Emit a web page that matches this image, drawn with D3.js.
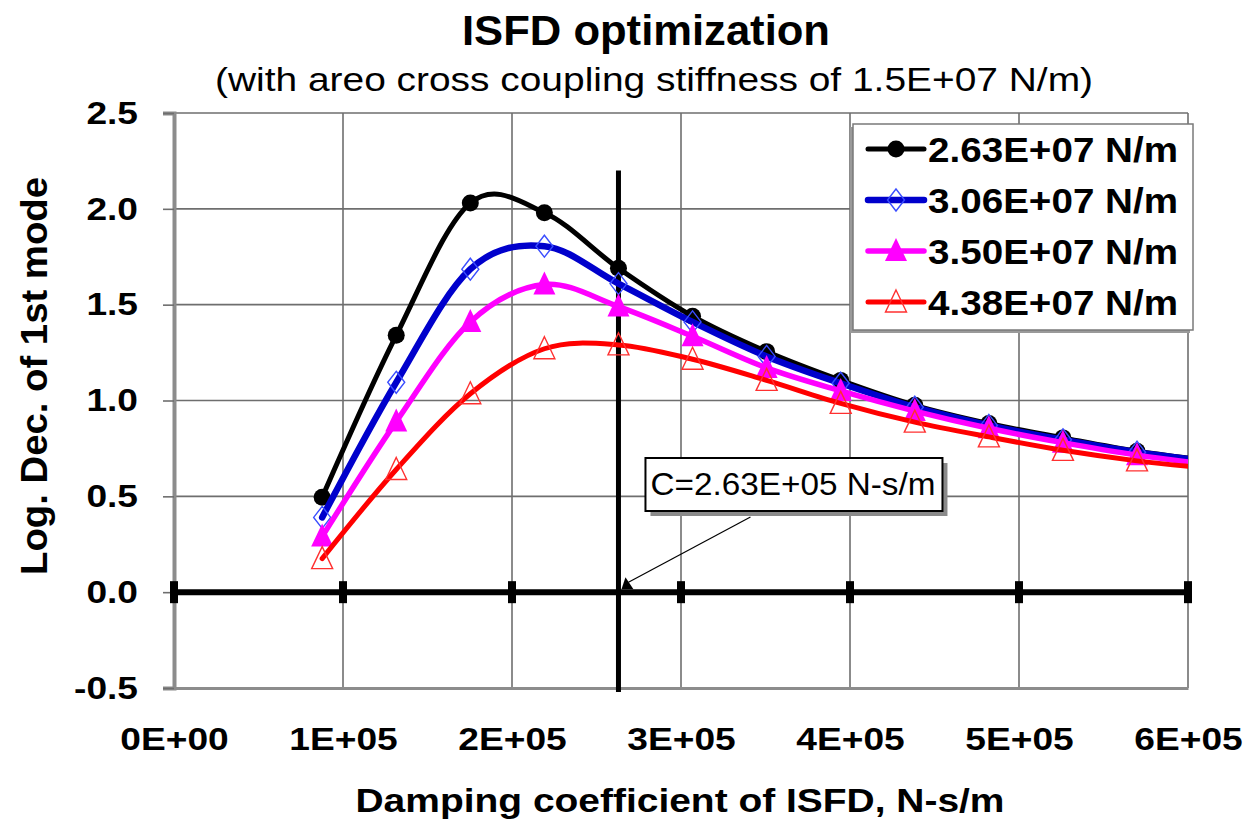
<!DOCTYPE html>
<html>
<head>
<meta charset="utf-8">
<script src="https://cdn.jsdelivr.net/npm/d3@7"></script>
<style>
  body { margin: 0; background: #fff; }
  text { font-family: "Liberation Sans", Arial, sans-serif; fill: #000; }
</style>
</head>
<body>
<div id="chart-area"></div>
<script>
// damping values, N-s/m (last one sits past the axis end, only the line into the edge shows)
var damping = [87667, 131500, 175333, 219167, 263000, 306833, 350667, 394500, 438333, 482167, 526000, 569833, 613667];

// log. dec. of 1st mode for each bearing stiffness
var k263 = [0.495, 1.34, 2.03, 1.98, 1.69, 1.44, 1.255, 1.105, 0.975, 0.88, 0.805, 0.735, 0.685];
var k306 = [0.39, 1.095, 1.685, 1.805, 1.61, 1.41, 1.23, 1.09, 0.965, 0.87, 0.795, 0.73, 0.68];
var k350 = [0.29, 0.89, 1.41, 1.605, 1.49, 1.335, 1.17, 1.05, 0.945, 0.855, 0.78, 0.715, 0.665];
var k438 = [0.175, 0.64, 1.035, 1.27, 1.29, 1.215, 1.105, 0.985, 0.887, 0.81, 0.74, 0.685, 0.645];

var seriesNames = ["2.63E+07 N/m", "3.06E+07 N/m", "3.50E+07 N/m", "4.38E+07 N/m"];
var xTicks = [0, 1e5, 2e5, 3e5, 4e5, 5e5, 6e5];
var yTicks = [-0.5, 0, 0.5, 1.0, 1.5, 2.0, 2.5];
var optimumC = 263000;
var optimumTop = 2.2;
var calloutText = "C=2.63E+05 N-s/m";

var styles = [
  { color: "#000000", width: 5, marker: "circle" },
  { color: "#0000cc", width: 6.5, marker: "diamond" },
  { color: "#ff00ff", width: 5.5, marker: "triFill" },
  { color: "#ff0000", width: 5, marker: "triOpen" }
];
var allSeries = [k263, k306, k350, k438];

var W = 1255, H = 820;
var svg = d3.select("#chart-area").append("svg")
  .attr("width", W)
  .attr("height", H);

var x = d3.scaleLinear().domain([0, 6e5]).range([174, 1188]);
var y = d3.scaleLinear().domain([-0.5, 2.5]).range([688, 113]);

// stretch helper, the source fonts are a bit wider than Arial
function widen(sel, f) {
  sel.each(function() {
    var t = d3.select(this);
    t.attr("textLength", this.getComputedTextLength() * f)
     .attr("lengthAdjust", "spacingAndGlyphs");
  });
}
function fit(sel, w) {
  sel.attr("textLength", w).attr("lengthAdjust", "spacingAndGlyphs");
}

//gridlines
var grid = svg.append("g");
grid.selectAll("line.h").data(yTicks).enter().append("line")
  .attr("x1", x(0)).attr("x2", x(6e5))
  .attr("y1", d => y(d)).attr("y2", d => y(d))
  .attr("stroke", "#6e6e6e").attr("stroke-width", 1.6);
grid.selectAll("line.v").data(xTicks).enter().append("line")
  .attr("x1", d => x(d)).attr("x2", d => x(d))
  .attr("y1", y(2.5)).attr("y2", y(-0.5))
  .attr("stroke", "#6e6e6e").attr("stroke-width", 1.6);

// y axis
var yAxis = svg.append("g")
  .attr("transform", "translate(" + x(0) + ",0)")
  .call(d3.axisLeft(y).tickValues(yTicks).tickFormat(d => d.toFixed(1)).tickSize(11).tickPadding(25));
yAxis.select(".domain").attr("stroke", "#8c8c8c").attr("stroke-width", 4);
yAxis.selectAll(".tick line").attr("stroke", "#6e6e6e").attr("stroke-width", 1.6);
yAxis.selectAll(".tick text")
  .style("font-family", "'Liberation Sans', Arial, sans-serif")
  .style("font-size", "32px").style("font-weight", "bold").attr("fill", "#000")
  .call(widen, 1.16);

// x axis
var xAxis = svg.append("g")
  .attr("transform", "translate(0," + y(-0.5) + ")")
  .call(d3.axisBottom(x).tickValues(xTicks).tickSize(0).tickPadding(39));
xAxis.select(".domain").attr("stroke", "#8c8c8c").attr("stroke-width", 3);
xAxis.selectAll(".tick text")
  .text(d => d === 0 ? "0E+00" : (d / 1e5) + "E+05")
  .style("font-family", "'Liberation Sans', Arial, sans-serif")
  .style("font-size", "32px").style("font-weight", "bold").attr("fill", "#000")
  .call(widen, 1.16);

// thick zero line with block ticks
svg.append("line")
  .attr("x1", x(0)).attr("x2", x(6e5))
  .attr("y1", y(0)).attr("y2", y(0))
  .attr("stroke", "#000").attr("stroke-width", 6);
svg.selectAll("rect.zt").data(xTicks).enter().append("rect")
  .attr("x", d => x(d) - 4).attr("y", y(0) - 11)
  .attr("width", 8).attr("height", 22)
  .attr("fill", "#000");

// optimum line
svg.append("line")
  .attr("x1", x(optimumC)).attr("x2", x(optimumC))
  .attr("y1", y(optimumTop)).attr("y2", y(-0.5) + 4)
  .attr("stroke", "#000").attr("stroke-width", 5);

// clip to plot area
svg.append("clipPath").attr("id", "plot")
  .append("rect")
  .attr("x", x(0)).attr("y", y(2.5) - 20)
  .attr("width", x(6e5) - x(0)).attr("height", y(-0.5) - y(2.5) + 20);

var line = d3.line()
  .x(d => x(d[0]))
  .y(d => y(d[1]))
  .curve(d3.curveCardinal.tension(0));

function drawMarker(g, type, color) {
  if (type === "circle") {
    g.append("circle").attr("r", 8.5).attr("fill", color);
  } else if (type === "diamond") {
    g.append("path").attr("d", "M0,-11L8.5,0L0,11L-8.5,0Z")
      .attr("fill", "none").attr("stroke", "#3a4dff").attr("stroke-width", 1.4);
  } else if (type === "triFill") {
    g.append("path").attr("d", "M0,-13L11,10L-11,10Z")
      .attr("fill", "#ff00ff");
  } else {
    g.append("path").attr("d", "M0,-12L10.5,10L-10.5,10Z")
      .attr("fill", "none").attr("stroke", "#ff3030").attr("stroke-width", 1.4);
  }
}

var plot = svg.append("g").attr("clip-path", "url(#plot)");
allSeries.forEach(function(vals, i) {
  var pts = damping.map((c, j) => [c, vals[j]]);
  var s = styles[i];
  plot.append("path")
    .attr("d", line(pts))
    .attr("fill", "none")
    .attr("stroke", s.color)
    .attr("stroke-width", s.width)
    .attr("stroke-linejoin", "round")
    .attr("stroke-linecap", "round");
  pts.forEach(function(p) {
    var m = plot.append("g").attr("transform", "translate(" + x(p[0]) + "," + y(p[1]) + ")");
    drawMarker(m, s.marker, s.color);
  });
});

// callout
var bx = x(optimumC) + 27, by = y(0.7), bw = 297, bh = 53;
svg.append("line")
  .attr("x1", bx + 105).attr("y1", by + bh + 6)
  .attr("x2", x(optimumC) + 10).attr("y2", y(0) - 10)
  .attr("stroke", "#000").attr("stroke-width", 1.2);
svg.append("path")
  .attr("transform", "translate(" + (x(optimumC) + 9) + "," + (y(0) - 7) + ")")
  .attr("d", "M-2,-8L6,4L-6,4Z")
  .attr("fill", "#000");
svg.append("rect")
  .attr("x", bx + 5).attr("y", by + 5).attr("width", bw).attr("height", bh)
  .attr("fill", "#8a8a8a");
svg.append("rect")
  .attr("x", bx).attr("y", by).attr("width", bw).attr("height", bh)
  .attr("fill", "#fff").attr("stroke", "#000").attr("stroke-width", 2);
svg.append("text")
  .attr("x", bx + 5).attr("y", by + 37)
  .style("font-size", "32px")
  .text(calloutText)
  .call(fit, 285);

// legend
var lg = svg.append("g");
lg.append("rect")
  .attr("x", 850).attr("y", 127).attr("width", 340).attr("height", 206)
  .attr("fill", "#9a9a9a");
lg.append("rect")
  .attr("x", 853).attr("y", 124).attr("width", 340).attr("height", 206)
  .attr("fill", "#fff").attr("stroke", "#7a7a7a").attr("stroke-width", 1.5);
seriesNames.forEach(function(name, i) {
  var s = styles[i];
  var ry = 149 + i * 51;
  lg.append("line")
    .attr("x1", 868).attr("x2", 924).attr("y1", ry).attr("y2", ry)
    .attr("stroke", s.color).attr("stroke-width", s.width)
    .attr("stroke-linecap", "round");
  var m = lg.append("g").attr("transform", "translate(896," + ry + ")");
  drawMarker(m, s.marker, s.color);
  lg.append("text")
    .attr("x", 928).attr("y", ry + 12.5)
    .style("font-size", "35px").style("font-weight", "bold")
    .text(name)
    .call(fit, 250);
});

// titles
svg.append("text")
  .attr("x", 646).attr("y", 45)
  .attr("text-anchor", "middle")
  .style("font-size", "42px").style("font-weight", "bold")
  .text("ISFD optimization")
  .call(fit, 368);
svg.append("text")
  .attr("x", 654).attr("y", 91)
  .attr("text-anchor", "middle")
  .style("font-size", "33px")
  .text("(with areo cross coupling stiffness of 1.5E+07 N/m)")
  .call(fit, 878);
svg.append("text")
  .attr("transform", "translate(47,376) rotate(-90)")
  .attr("text-anchor", "middle")
  .style("font-size", "37px").style("font-weight", "bold")
  .text("Log. Dec. of 1st mode")
  .call(fit, 398);
svg.append("text")
  .attr("x", 680).attr("y", 812)
  .attr("text-anchor", "middle")
  .style("font-size", "33px").style("font-weight", "bold")
  .text("Damping coefficient of ISFD, N-s/m")
  .call(fit, 649);
</script>
</body>
</html>
